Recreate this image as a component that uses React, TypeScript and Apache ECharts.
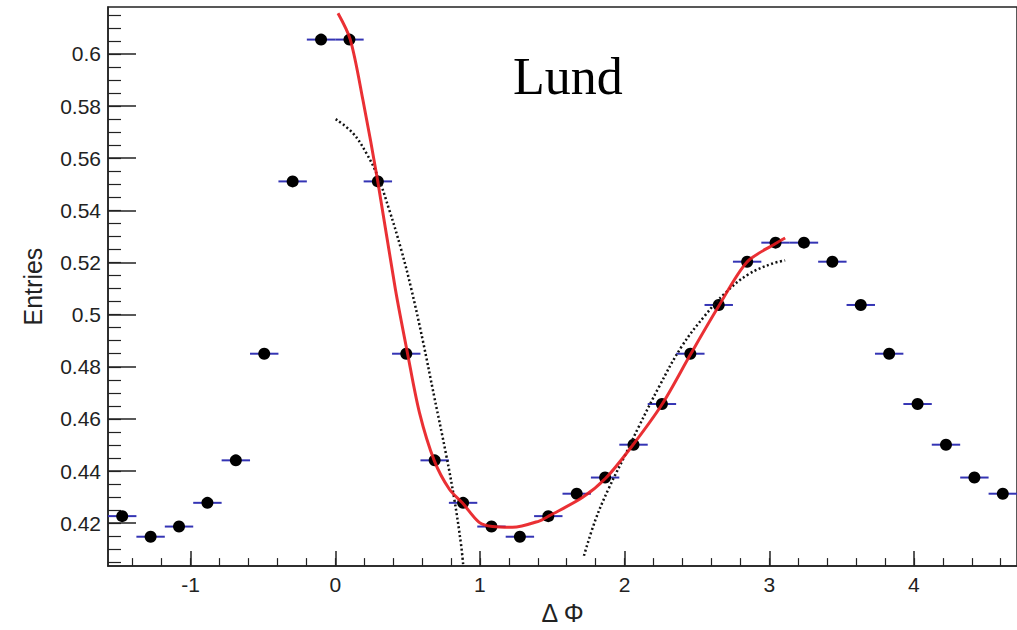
import React, { useEffect, useRef } from "react";
import * as echarts from "echarts";

// Δφ bin centres (32 bins over [-π/2, 3π/2])
const binCenters = [
  -1.4726, -1.2763, -1.0799, -0.8836, -0.6872, -0.4909, -0.2945, -0.0982,
  0.0982, 0.2945, 0.4909, 0.6872, 0.8836, 1.0799, 1.2763, 1.4726,
  1.669, 1.8653, 2.0617, 2.258, 2.4544, 2.6507, 2.8471, 3.0434,
  3.2398, 3.4361, 3.6325, 3.8288, 4.0252, 4.2215, 4.4179, 4.6142,
];

// normalised entries per bin
const entries = [
  0.4227, 0.4148, 0.4187, 0.4278, 0.4441, 0.485, 0.5511, 0.6055,
  0.6055, 0.5511, 0.485, 0.4441, 0.4278, 0.4187, 0.4148, 0.4227,
  0.4313, 0.4375, 0.4501, 0.4657, 0.485, 0.5037, 0.5203, 0.5276,
  0.5276, 0.5203, 0.5037, 0.485, 0.4657, 0.4501, 0.4375, 0.4313,
];

// half of a bin width, drawn as the horizontal error bar
const binHalfWidth = 0.0982;

// full fit (near side + away side)
const fitX = [
  0.019, 0.104, 0.191, 0.294, 0.416, 0.501, 0.582, 0.685, 0.789, 0.88,
  0.995, 1.087, 1.225, 1.409, 1.478, 1.708, 1.869, 2.052, 2.259, 2.455,
  2.65, 2.845, 3.041, 3.11,
];
const fitY = [
  0.6156, 0.6055, 0.5824, 0.5511, 0.5096, 0.4847, 0.4624, 0.4439, 0.433, 0.4277,
  0.4203, 0.4187, 0.4184, 0.4208, 0.4228, 0.4298, 0.4372, 0.4496, 0.4656, 0.4847,
  0.5032, 0.5201, 0.5272, 0.5294,
];

// near-side component
const nearX = [0.003, 0.122, 0.214, 0.294, 0.375, 0.456, 0.525, 0.605, 0.685, 0.766, 0.823, 0.869, 0.885];
const nearY = [0.575, 0.5696, 0.562, 0.553, 0.5399, 0.5249, 0.51, 0.4901, 0.4683, 0.4464, 0.4292, 0.412, 0.4036];

// away-side component
const awayX = [1.719, 1.8, 1.892, 2.007, 2.098, 2.237, 2.397, 2.558, 2.696, 2.857, 3.017, 3.11];
const awayY = [0.4075, 0.4215, 0.4335, 0.4465, 0.457, 0.4722, 0.488, 0.4998, 0.5083, 0.5155, 0.5195, 0.5208];

const yMajorTicks = [0.42, 0.44, 0.46, 0.48, 0.5, 0.52, 0.54, 0.56, 0.58, 0.6];
const yMinorTicks = [
  0.405, 0.41, 0.415, 0.42, 0.425, 0.43, 0.435, 0.44, 0.445, 0.45, 0.455,
  0.46, 0.465, 0.47, 0.475, 0.48, 0.485, 0.49, 0.495, 0.5, 0.505, 0.51,
  0.515, 0.52, 0.525, 0.53, 0.535, 0.54, 0.545, 0.55, 0.555, 0.56, 0.565,
  0.57, 0.575, 0.58, 0.585, 0.59, 0.595, 0.6, 0.605, 0.61, 0.615,
];
const xMajorTicks = [-1, 0, 1, 2, 3, 4];
const xMinorTicks = [
  -1.4, -1.2, -1, -0.8, -0.6, -0.4, -0.2, 0, 0.2, 0.4, 0.6, 0.8, 1, 1.2, 1.4,
  1.6, 1.8, 2, 2.2, 2.4, 2.6, 2.8, 3, 3.2, 3.4, 3.6, 3.8, 4, 4.2, 4.4, 4.6,
];

const X_MIN = -1.5708;
const X_MAX = 4.7124;
const Y_MIN = 0.40353;
const Y_MAX = 0.618;

const AXIS_COLOR = "#222";
const SANS = "Liberation Sans, Arial, sans-serif";

const zip = (xs: number[], ys: number[]) => xs.map((x, i) => [x, ys[i]]);

export default function App() {
  const ref = useRef<HTMLDivElement>(null);

  useEffect(() => {
    if (!ref.current) return;
    const chart = echarts.init(ref.current, undefined, { renderer: "svg" });

    const option = {
      animation: false,
      backgroundColor: "#fff",
      grid: {
        left: 108,
        top: 7,
        right: -2,
        bottom: 63,
        show: true,
        borderColor: AXIS_COLOR,
        borderWidth: 1.5,
        backgroundColor: "transparent",
      },
      xAxis: [
        {
          type: "value",
          min: X_MIN,
          max: X_MAX,
          position: "bottom",
          name: "Δ Φ",
          nameLocation: "middle",
          nameGap: 32,
          nameTextStyle: { fontFamily: SANS, fontSize: 25, color: AXIS_COLOR },
          axisLine: { show: true, onZero: false, lineStyle: { color: AXIS_COLOR, width: 1.5 } },
          axisTick: {
            show: true,
            inside: true,
            length: 15,
            customValues: xMajorTicks,
            lineStyle: { color: AXIS_COLOR, width: 1.5 },
          },
          axisLabel: {
            customValues: xMajorTicks,
            margin: 8,
            fontFamily: SANS,
            fontSize: 21,
            color: AXIS_COLOR,
            formatter: (v: number) => String(v),
          },
          splitLine: { show: false },
        },
        {
          type: "value",
          min: X_MIN,
          max: X_MAX,
          position: "bottom",
          axisLine: { show: false, onZero: false },
          axisTick: {
            show: true,
            inside: true,
            length: 8,
            customValues: xMinorTicks,
            lineStyle: { color: AXIS_COLOR, width: 1.2 },
          },
          axisLabel: { show: false },
          splitLine: { show: false },
        },
      ],
      yAxis: [
        {
          type: "value",
          min: Y_MIN,
          max: Y_MAX,
          position: "left",
          name: "Entries",
          nameLocation: "middle",
          nameGap: 63,
          nameTextStyle: { fontFamily: SANS, fontSize: 25, color: AXIS_COLOR },
          axisLine: { show: true, onZero: false, lineStyle: { color: AXIS_COLOR, width: 1.5 } },
          axisTick: {
            show: true,
            inside: true,
            length: 28,
            customValues: yMajorTicks,
            lineStyle: { color: AXIS_COLOR, width: 1.5 },
          },
          axisLabel: {
            customValues: yMajorTicks,
            margin: 7,
            fontFamily: SANS,
            fontSize: 21,
            color: AXIS_COLOR,
            formatter: (v: number) => String(parseFloat(v.toFixed(3))),
          },
          splitLine: { show: false },
        },
        {
          type: "value",
          min: Y_MIN,
          max: Y_MAX,
          position: "left",
          axisLine: { show: false, onZero: false },
          axisTick: {
            show: true,
            inside: true,
            length: 13,
            customValues: yMinorTicks,
            lineStyle: { color: AXIS_COLOR, width: 1.2 },
          },
          axisLabel: { show: false },
          splitLine: { show: false },
        },
      ],
      graphic: [
        {
          type: "text",
          x: 513,
          y: 50,
          style: {
            text: "Lund",
            fontFamily: "Liberation Serif, Times New Roman, serif",
            fontSize: 52,
            fill: "#000",
            align: "left",
            verticalAlign: "top",
          },
        },
      ],
      series: [
        {
          type: "custom",
          name: "binWidth",
          xAxisIndex: 0,
          yAxisIndex: 0,
          clip: true,
          encode: { x: 0, y: 1 },
          data: zip(binCenters, entries),
          renderItem: (_params: any, api: any) => {
            const x = api.value(0);
            const y = api.value(1);
            const p1 = api.coord([x - binHalfWidth, y]);
            const p2 = api.coord([x + binHalfWidth, y]);
            return {
              type: "line",
              shape: { x1: p1[0], y1: p1[1], x2: p2[0], y2: p2[1] },
              style: { stroke: "#3434b4", lineWidth: 2 },
            };
          },
          z: 2,
        },
        {
          type: "scatter",
          name: "data",
          xAxisIndex: 0,
          yAxisIndex: 0,
          data: zip(binCenters, entries),
          symbol: "circle",
          symbolSize: 12,
          itemStyle: { color: "#000", opacity: 1 },
          z: 3,
        },
        {
          type: "line",
          name: "near side",
          data: zip(nearX, nearY),
          smooth: 0.4,
          symbol: "none",
          clip: true,
          lineStyle: { color: "#111", width: 2.5, type: [2, 2.5] },
          z: 4,
        },
        {
          type: "line",
          name: "away side",
          data: zip(awayX, awayY),
          smooth: 0.4,
          symbol: "none",
          clip: true,
          lineStyle: { color: "#111", width: 2.5, type: [2, 2.5] },
          z: 4,
        },
        {
          type: "line",
          name: "fit",
          data: zip(fitX, fitY),
          smooth: 0.3,
          symbol: "none",
          clip: true,
          lineStyle: { color: "rgba(232, 26, 30, 0.9)", width: 3 },
          z: 5,
        },
      ],
    };

    chart.setOption(option as any);
    return () => chart.dispose();
  }, []);

  return (
    <div
      ref={ref}
      style={{ position: "fixed", left: 0, top: 0, width: 1017, height: 630, background: "#fff" }}
    />
  );
}
